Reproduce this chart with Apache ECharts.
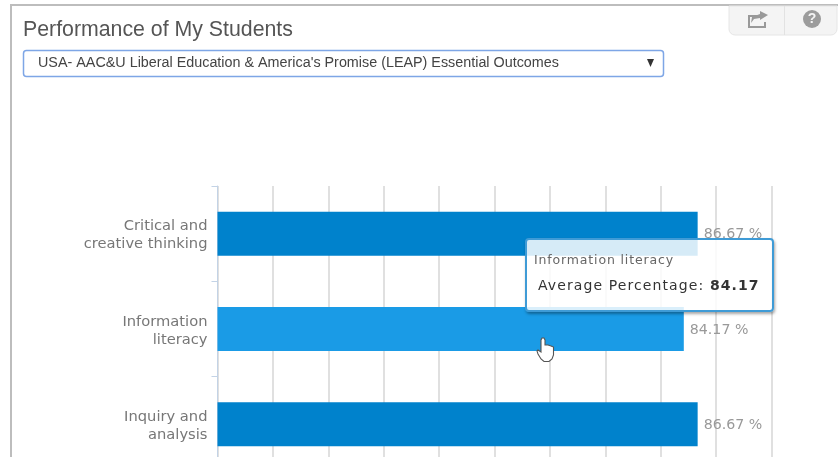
<!DOCTYPE html>
<html lang="en">

<head>
    <meta charset="UTF-8">
    <title>Performance of My Students</title>
    <style>
        html, body { margin: 0; padding: 0; background: #fff; overflow: hidden; }
        #box { width: 838px; height: 457px; }
    </style>
</head>

<body>
    <div id="box"></div>
</body>
<script src="https://cdn.jsdelivr.net/npm/echarts@6/dist/echarts.min.js"></script>
<script>
    var categories = ["Critical and\ncreative thinking", "Information\nliteracy", "Inquiry and\nanalysis"];
    var averagePercentage = [86.67, 84.17, 86.67];
    var valueTicks = { min: 0, max: 100, interval: 10 };
    var titleText = "Performance of My Students";
    var selectText = "USA- AAC&U Liberal Education & America's Promise (LEAP) Essential Outcomes";
    var hoverIndex = 1;

    var uiFont = '"Liberation Sans", Arial, sans-serif';
    var chartFont = '"DejaVu Sans", Verdana, sans-serif';

    var box = echarts.init(document.getElementById("box"));
    var option = {
        animation: false,
        backgroundColor: "#fff",
        // grid runs past the bottom of the window, the third band is cut off like in the screenshot
        grid: { left: 217.5, top: 186, width: 554, height: 286, outerBoundsMode: "none" },
        xAxis: {
            type: "value",
            min: valueTicks.min,
            max: valueTicks.max,
            interval: valueTicks.interval,
            axisLine: { show: false },
            axisTick: { show: false },
            axisLabel: { show: false },
            splitLine: { show: true, lineStyle: { color: "#d6d6d6", width: 1.5 } }
        },
        yAxis: {
            type: "category",
            inverse: true,
            data: categories,
            axisLine: { show: true, lineStyle: { color: "#c3d3e6", width: 1 } },
            axisTick: { show: true, length: 6, lineStyle: { color: "#c3d3e6" } },
            axisLabel: {
                margin: 10,
                align: "right",
                padding: [4, 0, 0, 0],
                // rich text so the padding nudges the two lines down
                formatter: function (v) {
                    return v.split("\n").map(function (line) { return "{a|" + line + "}"; }).join("\n");
                },
                rich: {
                    a: { color: "#777", fontFamily: chartFont, fontSize: 14.7, lineHeight: 18, align: "right" }
                }
            }
        },
        tooltip: {
            trigger: "item",
            alwaysShowContent: true,
            transitionDuration: 0,
            position: [525, 238],
            padding: 0,
            borderWidth: 0,
            backgroundColor: "transparent",
            extraCssText: "box-shadow:none;",
            formatter: function (p) {
                return '<div style="box-sizing:border-box;width:249px;height:74px;border:2px solid #3f9bd6;border-radius:4px;' +
                    'background:rgba(255,255,255,0.84);box-shadow:1px 2px 3px rgba(0,0,0,0.35);font-family:' + "'DejaVu Sans'" + ',sans-serif;white-space:nowrap;">' +
                    '<div style="position:absolute;left:9px;top:14px;font-size:12.5px;line-height:16px;letter-spacing:0.85px;color:#666;">' + p.name.replace("\n", " ") + '</div>' +
                    '<div style="position:absolute;left:13px;top:38px;font-size:14px;line-height:18px;letter-spacing:1.1px;color:#333;">' +
                    p.seriesName + ': <b>' + p.value + '</b></div></div>';
            }
        },
        series: [{
            name: "Average Percentage",
            type: "bar",
            data: averagePercentage,
            barWidth: 44,
            itemStyle: {
                color: function (p) { return p.dataIndex === hoverIndex ? "#1a9be6" : "#0082cc"; }
            },
            label: {
                show: true,
                position: "right",
                distance: 6,
                offset: [0, 1],
                color: "#999",
                fontFamily: chartFont,
                fontSize: 14.2,
                formatter: "{c} %"
            }
        }],
        graphic: [
            // panel frame
            { type: "rect", z: 1, shape: { x: 10, y: 4, width: 828, height: 2 }, style: { fill: "#bdbdbd" } },
            { type: "rect", z: 1, shape: { x: 10, y: 4, width: 2, height: 453 }, style: { fill: "#bdbdbd" } },
            // share / help buttons
            { type: "rect", z: 1, shape: { x: 729, y: 6, width: 108, height: 29, r: [0, 0, 6, 6] }, style: { fill: "#f4f4f4", stroke: "#e6e6e6" } },
            { type: "rect", z: 1, shape: { x: 784, y: 6, width: 1, height: 29 }, style: { fill: "#e2e2e2" } },
            { type: "polyline", z: 2, shape: { points: [[758, 16], [749, 16], [749, 27], [765, 27], [765, 22]] }, style: { fill: "none", stroke: "#999", lineWidth: 2 } },
            { type: "polygon", z: 2, shape: { points: [[760, 11], [768, 15], [760, 20], [760, 18], [754, 19], [751, 23], [752, 17], [760, 14]] }, style: { fill: "#999" } },
            { type: "circle", z: 2, shape: { cx: 812, cy: 19, r: 9 }, style: { fill: "#9c9c9c" } },
            { type: "text", z: 3, style: { x: 812, y: 19.5, text: "?", fill: "#f4f4f4", font: "bold 14px " + uiFont, textAlign: "center", textVerticalAlign: "middle" } },
            // title
            { type: "text", z: 2, style: { x: 23, y: 30, text: titleText, fill: "#555", font: "21.3px " + uiFont, textVerticalAlign: "middle" } },
            // dropdown
            { type: "rect", z: 1, shape: { x: 23.5, y: 50.5, width: 640, height: 26, r: 3 }, style: { fill: "#fff", stroke: "#7ea6e6", lineWidth: 1.5 } },
            { type: "text", z: 2, style: { x: 38, y: 63, text: selectText, fill: "#444", font: "14.35px " + uiFont, textVerticalAlign: "middle" } },
            { type: "polygon", z: 2, shape: { points: [[647, 59], [654, 59], [650.5, 67]] }, style: { fill: "#333" } },
            // mouse pointer over the hovered bar
            {
                type: "polygon", z: 5,
                shape: {
                    points: [[541, 350], [541, 340], [542, 338], [544, 338], [545, 340], [545, 345], [548, 345], [551, 346], [553.5, 347], [553.5, 355], [552, 359], [549, 361.5], [544, 361.5], [541, 359], [538, 354], [537, 351], [538, 350], [541, 352]]
                },
                style: { fill: "#fff", stroke: "#555", lineWidth: 1.1 }
            }
        ]
    };
    box.setOption(option);
    box.dispatchAction({ type: "showTip", seriesIndex: 0, dataIndex: hoverIndex });
</script>

</html>
